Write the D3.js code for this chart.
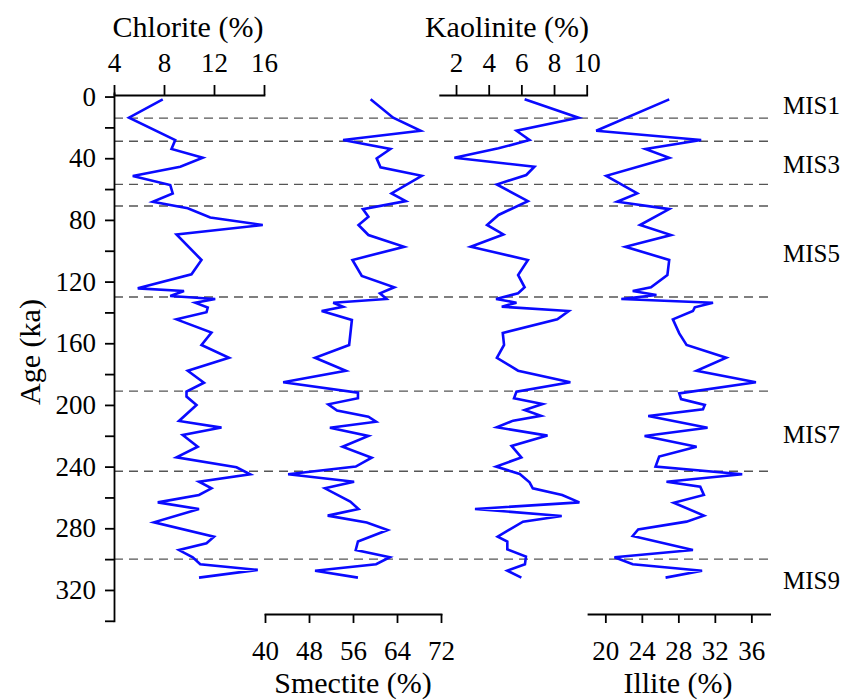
<!DOCTYPE html>
<html>
<head>
<meta charset="utf-8">
<script src="https://cdn.jsdelivr.net/npm/d3@7"></script>
<style>
	body { margin: 0; background: #fff; }
	.axis path, .axis line { stroke: #000; stroke-width: 1.8px; }
	.axis text { font-size: 27px; fill: #000; }
</style>
</head>
<body>
<svg id="chart" width="848" height="700"></svg>
<script>
// [age (ka), percent]
const chlorite = [[1.8,7.9],[13.7,5.2],[28.2,8.9],[34,8.6],[39.7,11.1],[45.5,9.3],[51.5,5.5],[57.4,8.5],[62.8,8.7],[68.2,7.1],[72.5,9.9],[78.4,11.7],[83.3,15.9],[89.4,9.0],[106,11.0],[115.3,10.2],[124.4,5.9],[126.1,9.6],[129.4,8.5],[131.3,12.1],[133.7,10.5],[136.9,11.5],[139.9,11.4],[144.5,9.0],[153.1,11.8],[161.1,11.0],[169.4,13.2],[177.8,9.9],[185.6,11.2],[191.4,9.8],[194.6,9.8],[200,10.6],[210.4,9.2],[214.7,12.6],[219.5,9.5],[227.1,10.7],[234,9.0],[240.4,13.8],[245,14.9],[249.8,10.8],[254.1,11.8],[258.4,10.8],[263.2,7.5],[267.5,10.8],[276.1,7.2],[285.4,12.0],[289.7,11.4],[294.1,9.2],[298.8,10.3],[303.3,10.9],[307,15.5],[312,10.8]]
const smectite = [[1.8,59.2],[13.7,63.3],[22.2,68.3],[28.2,54.2],[34,62.8],[40.1,60.3],[45.9,61],[51.4,68.5],[62.8,63],[67.8,65.6],[73,57.8],[77.9,58.8],[83.3,57],[89.8,58.8],[97.4,65.3],[106,55.9],[116.4,57.6],[123.7,63.5],[127.6,60.9],[131.3,62.1],[133.7,52.4],[136.3,54.2],[139.1,50.3],[144.9,55.8],[161.1,55.3],[169.4,49.1],[177.8,54.7],[185.3,43.3],[192,56.9],[195.7,56.9],[199.6,51.5],[203.7,53.1],[207.6,58.8],[210.9,60.2],[214.8,51.8],[220.1,58.8],[227.1,54.1],[234.2,59.4],[240,56.5],[245,44.2],[249.8,56.2],[254.1,50.9],[262.7,55.5],[267.5,57],[271.8,51.4],[276.3,58.5],[281.1,62.3],[288.6,56.9],[294.1,56.5],[298.8,62.7],[303.3,60.2],[307.5,49.1],[312,56.9]]
const kaolinite = [[1.8,6.2],[13.7,9.5],[22.2,5.7],[28.2,6.5],[33.6,4.6],[39.7,1.9],[45.5,6.8],[50.9,6.3],[57,4.5],[67.8,6.4],[76.8,4.6],[83.3,3.9],[89.4,4.9],[97.4,2.9],[106,6.4],[115.7,5.8],[123.7,6.2],[127.6,5.8],[131.3,4.45],[133.7,5.7],[136.3,4.8],[139.1,8.9],[144.5,8.2],[153.3,4.86],[161.1,4.94],[169.4,4.5],[177.8,5.8],[185.3,9.0],[191.4,5.7],[195.7,5.55],[199.4,7.3],[203.3,6.2],[207,7.2],[210.2,5.5],[214.5,4.5],[219.9,7.6],[226.6,5.4],[234,6.0],[240,4.45],[244.8,5.9],[250.2,6.5],[254.1,6.7],[258.4,8.5],[263.2,9.55],[267.5,3.16],[272,8.47],[275.7,6.1],[285.4,4.55],[288.6,5.14],[293.6,5.14],[298.4,6.28],[303.3,6.22],[307.5,5.14],[312,6.0]]
const illite = [[1.8,27.0],[22.2,19.0],[28.2,30.5],[34,24.4],[39.7,27.0],[51.4,20.1],[57.4,21.9],[62.8,23.5],[68.2,21.3],[73,27.0],[83.3,23.8],[89.8,27.2],[97.4,22.2],[106,27.0],[115.7,26.8],[123.7,25.0],[126.1,23.0],[128.7,25.6],[131.3,21.75],[133.7,31.8],[136.7,29.8],[139.1,29.6],[144.5,27.4],[153.6,28.1],[161.1,28.9],[169.4,33.25],[177.8,30.0],[185.3,36.5],[192.5,28.1],[196.2,28.3],[200,30.9],[202.8,30.7],[207.2,24.7],[214.8,31.2],[220.1,24.3],[227.1,30.0],[233.5,25.9],[240,25.5],[245,35.0],[249.8,26.7],[253,30.4],[258.4,30.8],[263.4,27.5],[271.8,30.8],[275.7,28.9],[280.7,23.6],[285,23.0],[294.1,29.6],[298.8,21.0],[303.3,23.0],[307.5,30.6],[312,26.6]]

const misBoundaries = [14, 29, 57, 71, 130, 191, 243, 300]
const misLabels = [["MIS1", 5.5], ["MIS3", 44], ["MIS5", 101.5], ["MIS7", 219], ["MIS9", 313.5]]
const ageTicks = d3.range(0, 341, 20)
const chloriteTicks = [4, 8, 12, 16]
const kaoliniteTicks = [2, 4, 6, 8, 10]
const smectiteTicks = [40, 48, 56, 64, 72]
const illiteTicks = [20, 24, 28, 32, 36]

const serif = "Liberation Serif"
const svg = d3.select("#chart").attr("font-family", serif)
const blue = "#0a0aff"

const y = d3.scaleLinear().domain([-2.3, 340]).range([93, 620.8])
const xChl = d3.scaleLinear().domain([4, 16]).range([114, 264])
const xKao = d3.scaleLinear().domain([1, 10]).range([439.7, 586.7])
const xSme = d3.scaleLinear().domain([40, 72]).range([265, 441])
const xIll = d3.scaleLinear().domain([18.1, 38]).range([588, 769.6])

// MIS boundaries
svg.append("g").selectAll("line")
	.data(misBoundaries)
	.enter().append("line")
	.attr("x1", 114).attr("x2", 770)
	.attr("y1", d => y(d)).attr("y2", d => y(d))
	.attr("stroke", "#555")
	.attr("stroke-width", 1.3)
	.attr("stroke-dasharray", "9,6")

svg.append("g").selectAll("text")
	.data(misLabels)
	.enter().append("text")
	.attr("x", 783)
	.attr("y", d => y(d[1]))
	.attr("dy", "0.35em")
	.attr("font-family", serif)
	.attr("font-size", 25)
	.text(d => d[0])

// axes
const addAxis = (axis, tx, ty) => {
	const g = svg.append("g")
		.attr("class", "axis")
		.attr("transform", "translate(" + tx + "," + ty + ")")
		.call(axis)
	g.attr("font-family", serif)
	g.selectAll("text").attr("font-family", serif)
	g.select(".domain").attr("stroke-linecap", "square")
}
addAxis(d3.axisLeft(y).tickValues(ageTicks).tickSize(9).tickSizeOuter(0).tickPadding(9)
	.tickFormat(d => d % 40 === 0 && d <= 320 ? d : ""), 114, 0)
addAxis(d3.axisTop(xChl).tickValues(chloriteTicks).tickSize(10).tickSizeOuter(0).tickPadding(13), 0, 95)
addAxis(d3.axisTop(xKao).tickValues(kaoliniteTicks).tickSize(10).tickSizeOuter(0).tickPadding(13), 0, 95)
addAxis(d3.axisBottom(xSme).tickValues(smectiteTicks).tickSize(9).tickSizeOuter(0).tickPadding(18), 0, 614)
addAxis(d3.axisBottom(xIll).tickValues(illiteTicks).tickSize(9).tickSizeOuter(0).tickPadding(18), 0, 614)

// titles
const titles = [["Chlorite (%)", 188, 37], ["Kaolinite (%)", 507, 37], ["Smectite (%)", 353, 693], ["Illite (%)", 678, 693]]
svg.append("g").selectAll("text")
	.data(titles)
	.enter().append("text")
	.attr("x", d => d[1]).attr("y", d => d[2])
	.attr("text-anchor", "middle")
	.attr("font-family", serif)
	.attr("font-size", 30)
	.text(d => d[0])

svg.append("text")
	.attr("transform", "translate(40,352) rotate(-90)")
	.attr("text-anchor", "middle")
	.attr("font-family", serif)
	.attr("font-size", 30)
	.text("Age (ka)")

// curves
const drawCurve = (data, x) => {
	const line = d3.line()
		.x(d => x(d[1]))
		.y(d => y(d[0]))
	svg.append("path")
		.datum(data)
		.attr("fill", "none")
		.attr("stroke", blue)
		.attr("stroke-width", 2.6)
		.attr("stroke-linejoin", "miter")
		.attr("d", line)
}
drawCurve(chlorite, xChl)
drawCurve(smectite, xSme)
drawCurve(kaolinite, xKao)
drawCurve(illite, xIll)
</script>
</body>
</html>
